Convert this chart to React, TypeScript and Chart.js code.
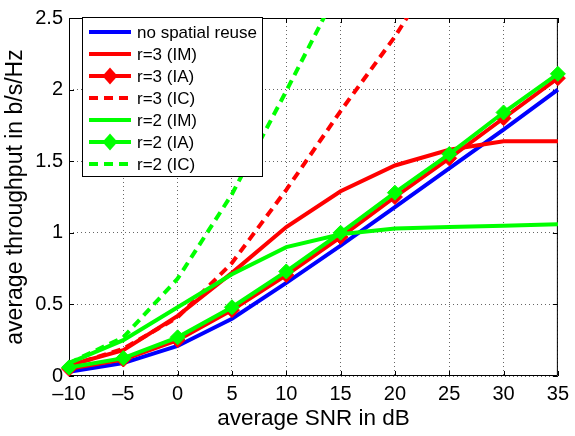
import React, { useEffect, useRef } from "react";
import { Chart, registerables } from "chart.js";

Chart.register(...registerables);

// ---- data ----
const snrDb = [-10, -5, 0, 5, 10, 15, 20, 25, 30, 35];
const noReuse = [0.03, 0.09, 0.21, 0.40, 0.65, 0.91, 1.18, 1.45, 1.72, 2.00];
const r3IM = [0.075, 0.18, 0.42, 0.72, 1.04, 1.29, 1.47, 1.58, 1.64, 1.64];
const r3IA = [0.05, 0.115, 0.25, 0.46, 0.705, 0.97, 1.25, 1.52, 1.80, 2.08];
const r3IC = [0.07, 0.19, 0.41, 0.79, 1.30, 1.85, 2.37, 2.97, 3.6, 4.3];
const r2IM = [0.09, 0.25, 0.48, 0.71, 0.90, 0.99, 1.03, 1.04, 1.05, 1.06];
const r2IA = [0.06, 0.125, 0.27, 0.48, 0.73, 1.00, 1.28, 1.55, 1.84, 2.11];
const r2IC = [0.09, 0.27, 0.68, 1.27, 1.99, 2.73, 3.5, 4.3, 5.1, 5.9];

const seriesNames = [
  "no spatial reuse",
  "r=3 (IM)",
  "r=3 (IA)",
  "r=3 (IC)",
  "r=2 (IM)",
  "r=2 (IA)",
  "r=2 (IC)",
];
const seriesValues = [noReuse, r3IM, r3IA, r3IC, r2IM, r2IA, r2IC];
const seriesColors = ["#0000ff", "#ff0000", "#ff0000", "#ff0000", "#00ff00", "#00ff00", "#00ff00"];
const seriesKinds = ["solid", "solid", "marker", "dashed", "solid", "marker", "dashed"];

const xTicks = [-10, -5, 0, 5, 10, 15, 20, 25, 30, 35];
const yTicks = [0, 0.5, 1, 1.5, 2, 2.5];

const FONT = "'Liberation Sans', Arial, Helvetica, sans-serif";
const DASH = [9, 6];

export default function App() {
  const ref = useRef<HTMLCanvasElement>(null);

  useEffect(() => {
    document.body.style.margin = "0";
    const canvas = ref.current!;

    const framePlugin = {
      id: "frame",
      beforeDatasetsDraw(chart: any) {
        const { ctx, chartArea } = chart;
        const { left, right, top, bottom } = chartArea;
        ctx.save();
        ctx.strokeStyle = "#000";
        ctx.lineWidth = 1;
        ctx.beginPath();
        ctx.rect(left + 0.5, top + 0.5, right - left - 1, bottom - top - 1);
        ctx.stroke();
        const tl = 5;
        ctx.beginPath();
        for (const v of xTicks) {
          const x = Math.round(chart.scales.x.getPixelForValue(v)) + 0.5;
          ctx.moveTo(x, bottom);
          ctx.lineTo(x, bottom - tl);
          ctx.moveTo(x, top);
          ctx.lineTo(x, top + tl);
        }
        for (const v of yTicks) {
          const y = Math.round(chart.scales.y.getPixelForValue(v)) + 0.5;
          ctx.moveTo(left, y);
          ctx.lineTo(left + tl, y);
          ctx.moveTo(right, y);
          ctx.lineTo(right - tl, y);
        }
        ctx.stroke();
        ctx.restore();
      },
    };

    const legendPlugin = {
      id: "customLegend",
      afterDraw(chart: any) {
        const { ctx } = chart;
        const bx = 82, by = 17, bw = 180, bh = 159;
        ctx.save();
        ctx.fillStyle = "#fff";
        ctx.fillRect(bx, by, bw, bh);
        ctx.strokeStyle = "#000";
        ctx.lineWidth = 1;
        ctx.strokeRect(bx + 0.5, by + 0.5, bw, bh);
        const rowH = 22;
        const y0 = 32;
        const x1 = 89, x2 = 131, tx = 137;
        ctx.font = `17px ${FONT}`;
        ctx.textBaseline = "middle";
        ctx.textAlign = "left";
        seriesNames.forEach((name, i) => {
          const y = y0 + i * rowH;
          const color = seriesColors[i];
          ctx.strokeStyle = color;
          ctx.lineWidth = 4;
          ctx.setLineDash(seriesKinds[i] === "dashed" ? DASH : []);
          ctx.beginPath();
          ctx.moveTo(x1, y);
          ctx.lineTo(x2, y);
          ctx.stroke();
          ctx.setLineDash([]);
          if (seriesKinds[i] === "marker") {
            const cx = (x1 + x2) / 2;
            ctx.fillStyle = color;
            ctx.beginPath();
            ctx.moveTo(cx, y - 8.5);
            ctx.lineTo(cx + 7.5, y);
            ctx.lineTo(cx, y + 8.5);
            ctx.lineTo(cx - 7.5, y);
            ctx.closePath();
            ctx.fill();
          }
          ctx.fillStyle = "#000";
          ctx.fillText(name, tx, y + 1);
        });
        ctx.restore();
      },
    };

    const datasets = seriesNames.map((name, i) => ({
      label: name,
      data: snrDb.map((x, j) => ({ x, y: seriesValues[i][j] })),
      borderColor: seriesColors[i],
      backgroundColor: seriesColors[i],
      borderWidth: 4,
      borderDash: seriesKinds[i] === "dashed" ? DASH : [],
      pointStyle: "rectRot",
      pointRadius: seriesKinds[i] === "marker" ? 7.5 : 0,
      pointBorderWidth: 1,
      pointBorderColor: seriesColors[i],
      pointBackgroundColor: seriesColors[i],
      tension: 0,
      fill: false,
      order: 10 - i,
      clip: { left: 12, top: 0, right: 12, bottom: 12 },
    }));

    const chart = new Chart(canvas, {
      type: "line",
      data: { datasets },
      plugins: [framePlugin, legendPlugin],
      options: {
        animation: false,
        responsive: false,
        devicePixelRatio: 1,
        layout: { padding: { top: 10, right: 11, left: 0, bottom: 0 } },
        plugins: {
          legend: { display: false },
          tooltip: { enabled: false },
        },
        scales: {
          x: {
            type: "linear",
            min: -10,
            max: 35,
            afterFit(s: any) {
              s.height = 60;
            },
            afterBuildTicks(s: any) {
              s.ticks = xTicks.map((v) => ({ value: v }));
            },
            ticks: {
              color: "#000",
              font: { family: FONT, size: 20 },
              padding: 6,
              maxRotation: 0,
              autoSkip: false,
              callback: (v: any) => (v < 0 ? "\u2013" + Math.abs(v) : String(v)),
            },
            grid: {
              color: "rgba(0,0,0,0.6)",
              lineWidth: 1,
              drawTicks: false,
            },
            border: { display: false, dash: [1, 3] },
            title: {
              display: true,
              text: "average SNR in dB",
              color: "#000",
              font: { family: FONT, size: 22.5 },
              padding: { top: 0, bottom: 4 },
            },
          },
          y: {
            type: "linear",
            min: 0,
            max: 2.5,
            afterFit(s: any) {
              s.width = 69;
            },
            afterBuildTicks(s: any) {
              s.ticks = yTicks.map((v) => ({ value: v }));
            },
            ticks: {
              color: "#000",
              font: { family: FONT, size: 20 },
              padding: 6,
              autoSkip: false,
              callback: (v: any) => String(v),
            },
            grid: {
              color: "rgba(0,0,0,0.6)",
              lineWidth: 1,
              drawTicks: false,
            },
            border: { display: false, dash: [1, 3] },
            title: {
              display: true,
              text: "average throughput in b/s/Hz",
              color: "#000",
              font: { family: FONT, size: 23 },
              padding: { top: 2, bottom: 0 },
            },
          },
        },
      },
    } as any);

    return () => chart.destroy();
  }, []);

  return (
    <canvas
      ref={ref}
      width={575}
      height={436}
      style={{ display: "block", width: 575, height: 436 }}
    />
  );
}
